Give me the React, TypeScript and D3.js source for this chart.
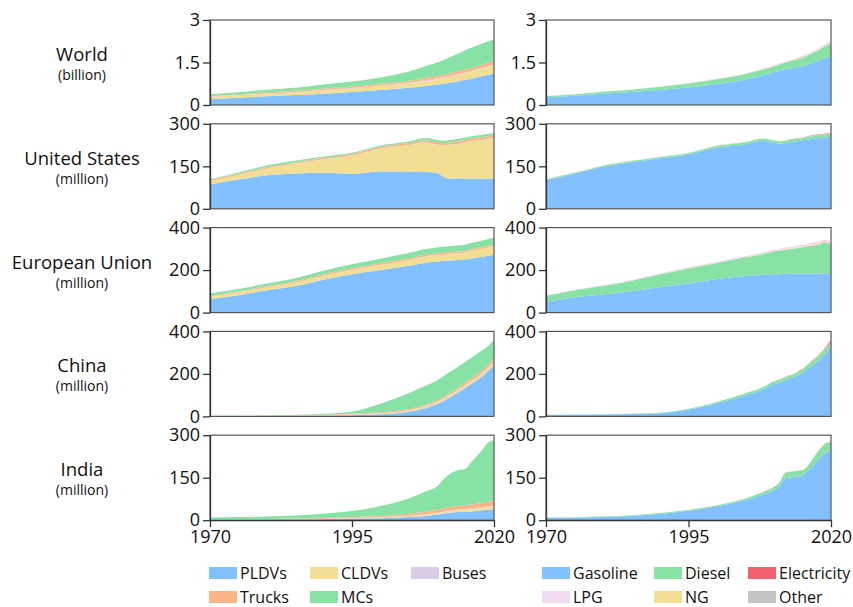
import React, { useEffect, useRef } from "react";
import * as d3 from "d3";

// years (irregular spacing where the curves bend)
const years = [1970, 1975, 1980, 1985, 1990, 1995, 2000, 2005, 2008, 2010, 2011, 2012, 2014, 2015, 2016, 2018, 2019, 2020];

const regions = ["World", "United States", "European Union", "China", "India"];
const units = ["(billion)", "(million)", "(million)", "(million)", "(million)"];
const yMax = [3, 300, 400, 400, 300];

const modeKeys = ["PLDVs", "CLDVs", "Buses", "Trucks", "MCs"];
const fuelKeys = ["Gasoline", "Diesel", "NG", "LPG", "Other", "Electricity"];

// ---- World (billion) ----
const worldPLDVs = [0.21, 0.26, 0.31, 0.35, 0.40, 0.46, 0.53, 0.61, 0.67, 0.72, 0.75, 0.78, 0.85, 0.89, 0.93, 1.02, 1.07, 1.12];
const worldCLDVs = [0.07, 0.08, 0.09, 0.10, 0.11, 0.12, 0.14, 0.16, 0.18, 0.19, 0.20, 0.21, 0.23, 0.24, 0.25, 0.27, 0.28, 0.29];
const worldBuses = [0.01, 0.01, 0.01, 0.01, 0.02, 0.02, 0.02, 0.02, 0.03, 0.03, 0.03, 0.03, 0.03, 0.03, 0.03, 0.03, 0.03, 0.03];
const worldTrucks = [0.03, 0.03, 0.04, 0.04, 0.05, 0.05, 0.06, 0.07, 0.08, 0.08, 0.08, 0.09, 0.09, 0.10, 0.10, 0.11, 0.11, 0.11];
const worldMCs = [0.06, 0.07, 0.09, 0.11, 0.14, 0.18, 0.22, 0.32, 0.42, 0.48, 0.52, 0.56, 0.64, 0.68, 0.71, 0.75, 0.76, 0.76];
const worldGasoline = [0.27, 0.33, 0.40, 0.46, 0.53, 0.62, 0.74, 0.90, 1.05, 1.15, 1.21, 1.26, 1.33, 1.37, 1.43, 1.57, 1.65, 1.73];
const worldDiesel = [0.04, 0.05, 0.07, 0.08, 0.11, 0.14, 0.17, 0.19, 0.20, 0.21, 0.22, 0.24, 0.28, 0.30, 0.33, 0.39, 0.42, 0.45];
const worldNG = [0.001, 0.001, 0.001, 0.001, 0.002, 0.003, 0.004, 0.006, 0.008, 0.01, 0.011, 0.012, 0.014, 0.015, 0.016, 0.018, 0.019, 0.02];
const worldLPG = [0.002, 0.003, 0.004, 0.005, 0.007, 0.009, 0.011, 0.013, 0.015, 0.016, 0.017, 0.018, 0.019, 0.02, 0.02, 0.021, 0.021, 0.021];
const worldOther = [0.003, 0.003, 0.004, 0.004, 0.005, 0.005, 0.006, 0.006, 0.007, 0.007, 0.008, 0.008, 0.008, 0.009, 0.009, 0.01, 0.01, 0.01];
const worldElectricity = [0, 0, 0, 0, 0, 0, 0, 0, 0, 0, 0.001, 0.001, 0.002, 0.003, 0.004, 0.007, 0.009, 0.012];

// ---- United States (million) ----
const usPLDVs = [86, 103, 118, 125, 127, 124, 132, 131, 130, 126, 114, 107, 108, 106, 106, 106, 107, 107];
const usCLDVs = [12, 16, 24, 34, 47, 63, 80, 93, 104, 100, 109, 118, 122, 128, 132, 137, 139, 142];
const usBuses = [0.4, 0.5, 0.5, 0.6, 0.6, 0.7, 0.7, 0.8, 0.8, 0.8, 0.8, 0.9, 0.9, 0.9, 0.9, 1, 1, 1];
const usTrucks = [4, 4.5, 5, 5, 5.5, 6, 6.5, 7, 7.5, 8, 8, 8, 8.5, 8.5, 9, 9, 9, 9];
const usMCs = [2, 4, 5.5, 5, 4.5, 4, 4.5, 6, 7.5, 8, 8, 8.2, 8.4, 8.5, 8.6, 8.7, 8.7, 8.7];
const usGasoline = [102, 124, 148, 164, 178, 192, 216, 228, 240, 233, 230, 232, 238, 241, 245, 250, 252, 254];
const usDiesel = [2, 3, 4, 4.5, 5, 5, 6, 7, 8, 8, 8, 8.5, 9, 9, 9.5, 10, 10.5, 11];
const usNG = [0.1, 0.1, 0.1, 0.1, 0.1, 0.1, 0.2, 0.2, 0.2, 0.2, 0.2, 0.2, 0.2, 0.2, 0.2, 0.2, 0.2, 0.2];
const usLPG = [0.3, 0.3, 0.3, 0.3, 0.3, 0.4, 0.4, 0.4, 0.4, 0.4, 0.4, 0.4, 0.4, 0.4, 0.4, 0.4, 0.4, 0.4];
const usOther = [0.5, 0.5, 0.5, 0.6, 0.6, 0.6, 0.7, 0.7, 0.8, 0.8, 0.8, 0.8, 0.9, 0.9, 0.9, 1, 1, 1];
const usElectricity = [0, 0, 0, 0, 0, 0, 0, 0, 0, 0, 0, 0.1, 0.3, 0.4, 0.6, 1.1, 1.5, 2];

// ---- European Union (million) ----
const euPLDVs = [63, 82, 105, 125, 155, 180, 200, 220, 235, 240, 243, 245, 247, 250, 255, 263, 268, 271];
const euCLDVs = [12, 13, 14, 16, 19, 21, 24, 27, 29, 30, 30, 31, 32, 33, 35, 37, 38, 40];
const euBuses = [0.7, 0.7, 0.7, 0.8, 0.8, 0.8, 0.8, 0.9, 0.9, 0.9, 0.9, 0.9, 0.9, 0.9, 0.9, 0.9, 0.9, 0.9];
const euTrucks = [4, 4.5, 5, 5.5, 6, 6.5, 7, 7.5, 7.5, 7.5, 7.5, 7.5, 7.5, 7.5, 7.5, 7.5, 7.5, 7.5];
const euMCs = [10, 11, 12, 14, 16, 19, 22, 25, 27, 28, 28, 28, 29, 29, 30, 31, 32, 33];
const euGasoline = [50, 72, 85, 100, 120, 137, 158, 172, 177, 180, 181, 182, 183, 183, 183, 184, 185, 178];
const euDiesel = [28, 33, 40, 50, 60, 71, 76, 88, 98, 107, 111, 114, 120, 124, 129, 138, 145, 140];
const euNG = [0.3, 0.3, 0.4, 0.4, 0.5, 0.6, 0.8, 1, 1.5, 1.8, 2, 2.2, 2.6, 2.8, 3, 3.3, 3.5, 3.5];
const euLPG = [1.5, 2, 2.5, 3, 3.5, 4, 4.5, 5, 5.5, 6, 6, 6, 6, 6, 6.5, 6.5, 6.5, 6.5];
const euOther = [0.5, 0.5, 0.5, 0.5, 0.5, 0.5, 0.5, 0.5, 0.5, 0.5, 0.5, 0.5, 0.5, 0.5, 0.5, 0.5, 0.5, 0.5];
const euElectricity = [0, 0, 0, 0, 0, 0, 0, 0, 0, 0, 0, 0, 0.1, 0.2, 0.3, 0.6, 0.9, 1.8];

// ---- China (million) ----
const cnPLDVs = [0.3, 0.5, 0.8, 1.5, 3, 6, 10, 22, 40, 58, 70, 85, 118, 135, 152, 190, 215, 238];
const cnCLDVs = [0.5, 0.7, 1, 1.5, 2, 3, 4, 6, 8, 9, 9.5, 10, 11, 12, 12, 13, 13, 14];
const cnBuses = [0.1, 0.1, 0.2, 0.3, 0.5, 0.8, 1, 1.5, 2, 2.5, 3, 3, 3.5, 3.5, 4, 4, 4, 4];
const cnTrucks = [0.5, 0.8, 1, 1.5, 2.5, 3, 4, 5, 6, 7, 7.5, 8, 9, 10, 11, 12, 13, 13];
const cnMCs = [0.6, 0.8, 0.8, 1.5, 4, 10, 41, 75, 89, 94, 98, 99, 98, 97, 96, 93, 88, 89];
const cnGasoline = [7, 8, 9, 11, 15, 32, 62, 100, 125, 152, 160, 170, 190, 204, 225, 266, 294, 326];
const cnDiesel = [0.5, 0.7, 1, 1.5, 2, 4, 6, 9, 12, 13, 14, 15, 17, 19, 20, 22, 23, 25];
const cnNG = [0, 0, 0, 0, 0, 0, 0.1, 0.2, 0.4, 0.6, 0.7, 0.8, 1, 1.2, 1.4, 1.7, 1.9, 2];
const cnLPG = [0, 0, 0, 0, 0, 0.1, 0.2, 0.3, 0.4, 0.5, 0.5, 0.6, 0.7, 0.8, 0.8, 0.9, 1, 1];
const cnOther = [0, 0, 0, 0, 0, 0, 0, 0, 0, 0, 0, 0, 0, 0, 0, 0, 0, 0];
const cnElectricity = [0, 0, 0, 0, 0, 0, 0, 0, 0, 0, 0, 0, 0.1, 0.4, 1, 3, 4.5, 6.5];

// ---- India (million) ----
const inPLDVs = [1.5, 1.8, 2, 2.5, 3.5, 5, 7, 11, 15, 20, 23, 26, 29, 30, 31, 35, 37, 39];
const inCLDVs = [0.5, 0.6, 0.8, 1, 1.3, 2, 2.5, 3.5, 4.5, 5, 5.5, 6, 7, 7.5, 8, 9, 9.5, 10];
const inBuses = [0.3, 0.4, 0.5, 0.6, 0.7, 0.8, 1, 1.3, 1.5, 1.7, 1.8, 1.9, 2, 2, 2.1, 2.2, 2.2, 2.3];
const inTrucks = [0.8, 1, 1.3, 1.8, 2.5, 3.5, 4.5, 7, 9, 10, 11, 12, 13, 13.5, 14, 15.5, 16, 17];
const inMCs = [6.4, 7.2, 8.4, 11, 15, 21, 35, 54, 72, 83, 101, 114, 127, 129, 150, 188, 210, 214];
const inGasoline = [8, 9, 11, 15, 22, 33, 49, 71, 90, 106, 120, 148, 153, 159, 175, 218, 238, 244];
const inDiesel = [1.5, 1.8, 2, 2.5, 3, 3.5, 4, 6, 9, 12, 14, 20, 21, 17, 18, 32, 32, 31];
const inNG = [0, 0, 0, 0, 0, 0, 0.1, 0.2, 0.3, 0.4, 0.5, 0.6, 0.8, 0.9, 1, 1.2, 1.4, 1.5];
const inLPG = [0, 0, 0, 0, 0, 0.1, 0.3, 0.5, 0.8, 1, 1.1, 1.2, 1.4, 1.5, 1.6, 1.8, 1.9, 2];
const inOther = [0, 0, 0, 0, 0, 0, 0, 0, 0, 0, 0, 0, 0, 0, 0, 0, 0, 0];
const inElectricity = [0, 0, 0, 0, 0, 0, 0, 0, 0, 0, 0, 0, 0, 0, 0.1, 0.2, 0.3, 0.5];

const modeSeries = [
  [worldPLDVs, worldCLDVs, worldBuses, worldTrucks, worldMCs],
  [usPLDVs, usCLDVs, usBuses, usTrucks, usMCs],
  [euPLDVs, euCLDVs, euBuses, euTrucks, euMCs],
  [cnPLDVs, cnCLDVs, cnBuses, cnTrucks, cnMCs],
  [inPLDVs, inCLDVs, inBuses, inTrucks, inMCs],
];
const fuelSeries = [
  [worldGasoline, worldDiesel, worldNG, worldLPG, worldOther, worldElectricity],
  [usGasoline, usDiesel, usNG, usLPG, usOther, usElectricity],
  [euGasoline, euDiesel, euNG, euLPG, euOther, euElectricity],
  [cnGasoline, cnDiesel, cnNG, cnLPG, cnOther, cnElectricity],
  [inGasoline, inDiesel, inNG, inLPG, inOther, inElectricity],
];

const colors: Record<string, string> = {
  PLDVs: "#82c0ff", CLDVs: "#f2df94", Buses: "#d8cde4", Trucks: "#fdb487", MCs: "#88e1a5",
  Gasoline: "#82c0ff", Diesel: "#88e1a5", Electricity: "#f0606e", LPG: "#f0dcf0", NG: "#f2df94", Other: "#c4c4c4",
};

const legendLeft = [["PLDVs", "CLDVs", "Buses"], ["Trucks", "MCs"]];
const legendRight = [["Gasoline", "Diesel", "Electricity"], ["LPG", "NG", "Other"]];

const font = "'Open Sans', sans-serif";

function App() {
  const ref = useRef<SVGSVGElement>(null);

  useEffect(() => {
    const svg = d3.select(ref.current);
    svg.selectAll("*").remove();

    const cols = [
      { x0: 210, x1: 494, keys: modeKeys, series: modeSeries, legend: legendLeft, lx: [209, 310, 411] },
      { x0: 546, x1: 831, keys: fuelKeys, series: fuelSeries, legend: legendRight, lx: [542, 654, 748] },
    ];
    const h = 85;

    regions.forEach((name, i) => {
      const top = 20 + i * 103.8;

      svg.append("text").attr("x", 82).attr("y", top + 41)
        .attr("text-anchor", "middle").style("font-family", font).style("font-size", "18.5px")
        .attr("fill", "#111").text(name);
      svg.append("text").attr("x", 82).attr("y", top + 60)
        .attr("text-anchor", "middle").style("font-family", font).style("font-size", "14px")
        .attr("fill", "#111").text(units[i]);

      cols.forEach(c => {
        const table = years.map((yr, j) => {
          const row: any = { year: yr };
          c.keys.forEach((k, s) => { row[k] = c.series[i][s][j]; });
          return row;
        });
        const x = d3.scaleLinear().domain([1970, 2020]).range([c.x0, c.x1]);
        const y = d3.scaleLinear().domain([0, yMax[i]]).range([top + h, top]);
        const stacked = d3.stack().keys(c.keys)(table);
        const area = d3.area<any>()
          .curve(d3.curveMonotoneX)
          .x(d => x(d.data.year))
          .y0(d => y(d[0]))
          .y1(d => y(d[1]));

        const g = svg.append("g");
        g.selectAll("path.layer").data(stacked).enter().append("path")
          .attr("class", "layer")
          .attr("d", area)
          .attr("fill", d => colors[d.key]);

        g.append("rect").attr("x", c.x0).attr("y", top)
          .attr("width", c.x1 - c.x0).attr("height", h)
          .attr("fill", "none").attr("stroke", "#555").attr("stroke-width", 1.2);

        const mid = yMax[i] / 2;
        const yAxis = g.append("g")
          .attr("transform", `translate(${c.x0},0)`)
          .call(d3.axisLeft(y).tickValues([0, mid, yMax[i]]).tickSize(7).tickSizeOuter(0).tickPadding(3)
            .tickFormat(d => String(d)));
        yAxis.selectAll("text").style("font-family", font).style("font-size", "18px").attr("fill", "#111");
        yAxis.selectAll("line,path").attr("stroke", "#333").attr("stroke-width", 1.3);

        if (i === regions.length - 1) {
          const xAxis = g.append("g")
            .attr("transform", `translate(0,${top + h})`)
            .call(d3.axisBottom(x).tickValues([1970, 1995, 2020]).tickSize(7).tickSizeOuter(0).tickPadding(3)
              .tickFormat(d3.format("d")));
          xAxis.selectAll("text").style("font-family", font).style("font-size", "18px").attr("fill", "#111");
          xAxis.selectAll("line,path").attr("stroke", "#333").attr("stroke-width", 1.3);
        }
      });
    });

    // legends
    cols.forEach(c => {
      c.legend.forEach((row, r) => {
        row.forEach((k, j) => {
          const lx = c.lx[j];
          const ly = 567 + r * 24;
          svg.append("rect").attr("x", lx).attr("y", ly).attr("width", 28).attr("height", 12)
            .attr("fill", colors[k]);
          svg.append("text").attr("x", lx + 31).attr("y", ly + 11.5)
            .style("font-family", font).style("font-size", "16px").attr("fill", "#111").text(k);
        });
      });
    });
  }, []);

  return (
    <div style={{ position: "absolute", left: 0, top: 0 }}>
      <svg ref={ref} width={853} height={607} style={{ display: "block", background: "#fff" }} />
    </div>
  );
}

export default App;
